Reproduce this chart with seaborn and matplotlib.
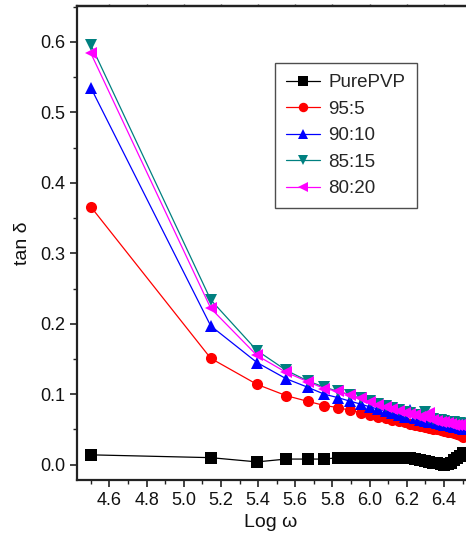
import matplotlib
matplotlib.use("Agg")
import matplotlib.pyplot as plt
from matplotlib.ticker import MultipleLocator, NullFormatter
import seaborn as sns
import pandas as pd

log_w = [4.500, 5.145, 5.394, 5.551, 5.666, 5.757, 5.832, 5.896, 5.952, 6.002,
         6.046, 6.086, 6.123, 6.157, 6.189, 6.218, 6.245, 6.271, 6.296, 6.319,
         6.341, 6.362, 6.382, 6.401, 6.419, 6.436, 6.453, 6.469, 6.485, 6.500]

pure_pvp = [0.014, 0.010, 0.004, 0.008, 0.008, 0.008, 0.010, 0.010, 0.009, 0.010,
            0.009, 0.010, 0.010, 0.010, 0.010, 0.009, 0.008, 0.007, 0.005, 0.004,
            0.003, 0.002, 0.001, 0.000, 0.001, 0.003, 0.006, 0.009, 0.012, 0.017]
r95_5 = [0.366, 0.151, 0.114, 0.098, 0.090, 0.084, 0.081, 0.077, 0.074, 0.071,
         0.068, 0.066, 0.064, 0.062, 0.060, 0.058, 0.057, 0.055, 0.053, 0.052,
         0.051, 0.050, 0.049, 0.048, 0.047, 0.046, 0.045, 0.044, 0.042, 0.040]
r90_10 = [0.535, 0.197, 0.145, 0.122, 0.110, 0.100, 0.095, 0.090, 0.086, 0.082,
          0.079, 0.076, 0.073, 0.070, 0.068, 0.078, 0.066, 0.064, 0.062, 0.061,
          0.060, 0.059, 0.058, 0.057, 0.056, 0.055, 0.054, 0.053, 0.052, 0.051]
r85_15 = [0.596, 0.234, 0.162, 0.134, 0.119, 0.110, 0.104, 0.099, 0.094, 0.090,
          0.086, 0.083, 0.080, 0.077, 0.075, 0.073, 0.071, 0.069, 0.075, 0.066,
          0.065, 0.064, 0.063, 0.062, 0.061, 0.060, 0.060, 0.059, 0.059, 0.058]
r80_20 = [0.584, 0.222, 0.155, 0.131, 0.118, 0.108, 0.104, 0.099, 0.094, 0.089,
          0.085, 0.082, 0.079, 0.076, 0.074, 0.072, 0.070, 0.068, 0.067, 0.074,
          0.064, 0.062, 0.061, 0.060, 0.059, 0.058, 0.057, 0.056, 0.056, 0.055]

labels = ["PurePVP", "95:5", "90:10", "85:15", "80:20"]
series = [pure_pvp, r95_5, r90_10, r85_15, r80_20]
colors = ["#000000", "#FF0000", "#0000FF", "#008080", "#FF00FF"]
markers = ["s", "o", "^", "v", "<"]

sns.set_style("ticks")
plt.rcParams["font.family"] = ["Liberation Sans", "DejaVu Sans"]

fig = plt.figure(figsize=(4.66, 5.42), dpi=100)
ax = fig.add_axes([0.1646, 0.1144, 0.834, 0.8746])

for lab, vals, col, mk in zip(labels, series, colors, markers):
    df = pd.DataFrame({"x": log_w, "y": vals})
    sns.lineplot(data=df, x="x", y="y", ax=ax, color=col, marker=mk,
                 markersize=8, markeredgewidth=0, linewidth=0.9, label=lab,
                 markeredgecolor=col, estimator=None, sort=False)

ax.set_xlim(4.424, 6.515)
ax.set_ylim(-0.0217, 0.651)
ax.xaxis.set_minor_locator(MultipleLocator(0.1))
ax.yaxis.set_minor_locator(MultipleLocator(0.05))
ax.set_xticks([4.6, 4.8, 5.0, 5.2, 5.4, 5.6, 5.8, 6.0, 6.2, 6.4])
ax.set_xticklabels(["4.6", "4.8", "5.0", "5.2", "5.4", "5.6", "5.8", "6.0", "6.2", "6.4"])
ax.set_yticks([0.0, 0.1, 0.2, 0.3, 0.4, 0.5, 0.6])
ax.set_yticklabels(["0.0", "0.1", "0.2", "0.3", "0.4", "0.5", "0.6"])

ax.tick_params(axis="both", which="major", direction="out", length=5, width=1.2,
               labelsize=13, colors="#222222", labelcolor="#111111")
ax.tick_params(axis="both", which="minor", direction="out", length=3, width=1.0,
               colors="#222222")
ax.tick_params(axis="x", which="both", top=False)
for s in ["left", "bottom", "top"]:
    ax.spines[s].set_linewidth(1.6)
    ax.spines[s].set_color("#222222")
ax.spines["right"].set_visible(False)

sec = ax.secondary_xaxis("top")
sec.set_xticks([4.6, 4.8, 5.0, 5.2, 5.4, 5.6, 5.8, 6.0, 6.2, 6.4])
sec.xaxis.set_major_formatter(NullFormatter())
sec.tick_params(axis="x", which="major", direction="out", length=1.5, width=1.0,
                colors="#444444")
sec.spines["top"].set_linewidth(1.6)
sec.spines["top"].set_color("#222222")

ax.set_xlabel("Log ω", fontsize=14, labelpad=4, color="#111111")
ax.set_ylabel("tan δ", fontsize=14, labelpad=6, color="#111111")

leg = ax.legend(loc="upper left", bbox_to_anchor=(0.51, 0.88), fontsize=13.5,
                frameon=True, fancybox=False, edgecolor="#222222",
                handlelength=1.8, handletextpad=0.45, labelspacing=0.5,
                borderpad=0.6, borderaxespad=0, markerscale=0.85)
leg.get_frame().set_linewidth(1.0)

fig.savefig("out.png", dpi=100)
